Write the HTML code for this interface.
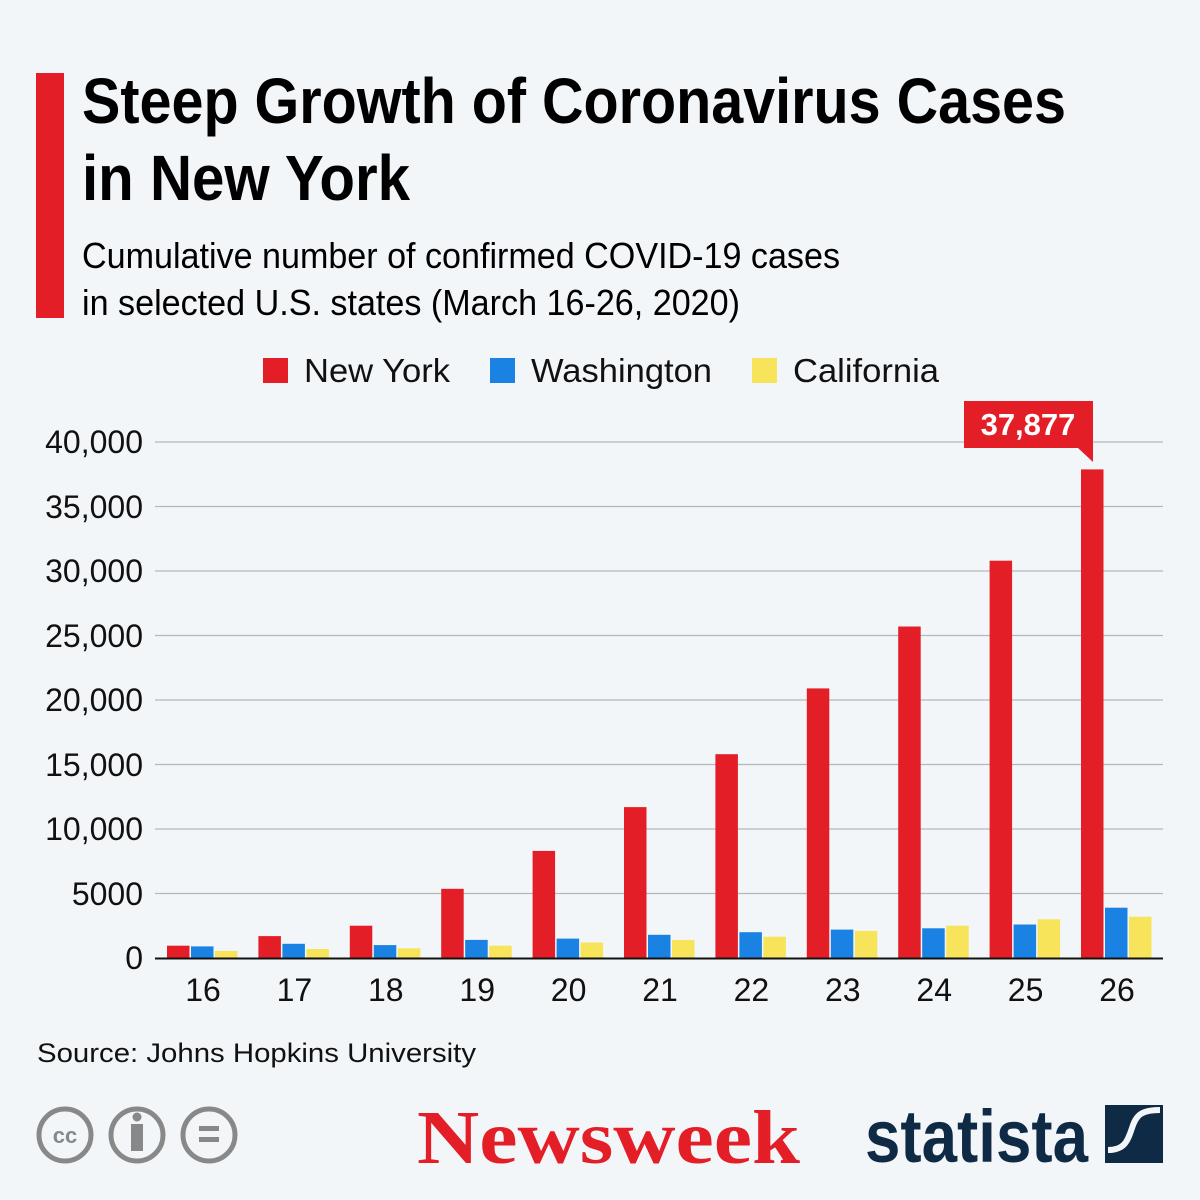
<!DOCTYPE html>
<html><head><meta charset="utf-8"><style>
html,body{margin:0;padding:0;background:#f3f6f9;}
svg{display:block;}
</style></head><body>
<svg width="1200" height="1200" viewBox="0 0 1200 1200" xmlns="http://www.w3.org/2000/svg">
<rect width="1200" height="1200" fill="#f3f6f9"/>
<rect x="36" y="73" width="28" height="245" fill="#e41e26"/>
<g font-family="Liberation Sans, sans-serif" fill="#000">
<text x="82" y="123" font-size="64" font-weight="bold" textLength="984" lengthAdjust="spacingAndGlyphs">Steep Growth of Coronavirus Cases</text>
<text x="82" y="200" font-size="64" font-weight="bold" textLength="328" lengthAdjust="spacingAndGlyphs">in New York</text>
<text x="82" y="268" font-size="36" textLength="758" lengthAdjust="spacingAndGlyphs">Cumulative number of confirmed COVID-19 cases</text>
<text x="82" y="315" font-size="36" textLength="658" lengthAdjust="spacingAndGlyphs">in selected U.S. states (March 16-26, 2020)</text>
</g>
<g font-family="Liberation Sans, sans-serif" font-size="33" fill="#111">
<rect x="263" y="358" width="25" height="25" fill="#e41e26"/><text x="304" y="382" textLength="146" lengthAdjust="spacingAndGlyphs">New York</text>
<rect x="490" y="358" width="25" height="25" fill="#1a82e2"/><text x="531" y="382" textLength="181" lengthAdjust="spacingAndGlyphs">Washington</text>
<rect x="752" y="358" width="25" height="25" fill="#f7e45b"/><text x="793" y="382" textLength="146" lengthAdjust="spacingAndGlyphs">California</text>
</g>
<g stroke="#b5b8bb" stroke-width="1.2">
<line x1="155" x2="1163" y1="442" y2="442"/><line x1="155" x2="1163" y1="506.5" y2="506.5"/>
<line x1="155" x2="1163" y1="571" y2="571"/><line x1="155" x2="1163" y1="635.5" y2="635.5"/>
<line x1="155" x2="1163" y1="700" y2="700"/><line x1="155" x2="1163" y1="764.5" y2="764.5"/>
<line x1="155" x2="1163" y1="829" y2="829"/><line x1="155" x2="1163" y1="893.5" y2="893.5"/>
</g>
<g font-family="Liberation Sans, sans-serif" font-size="32" fill="#111" text-anchor="end">
<text x="143" y="453">40,000</text><text x="143" y="518">35,000</text><text x="143" y="582">30,000</text>
<text x="143" y="647">25,000</text><text x="143" y="711">20,000</text><text x="143" y="776">15,000</text>
<text x="143" y="840">10,000</text><text x="143" y="905">5000</text><text x="143" y="969">0</text>
</g>
<g>
<rect x="167" y="945.7" width="22.5" height="12.3" fill="#e41e26"/><rect x="191" y="946.4" width="22.5" height="11.6" fill="#1a82e2"/><rect x="215" y="950.9" width="22.5" height="7.1" fill="#f7e45b"/>
<rect x="258.4" y="936.1" width="22.5" height="21.9" fill="#e41e26"/><rect x="282.4" y="943.8" width="22.5" height="14.2" fill="#1a82e2"/><rect x="306.4" y="949" width="22.5" height="9" fill="#f7e45b"/>
<rect x="349.8" y="925.7" width="22.5" height="32.3" fill="#e41e26"/><rect x="373.8" y="945.1" width="22.5" height="12.9" fill="#1a82e2"/><rect x="397.8" y="948.3" width="22.5" height="9.7" fill="#f7e45b"/>
<rect x="441.2" y="888.8" width="22.5" height="69.2" fill="#e41e26"/><rect x="465.2" y="939.9" width="22.5" height="18.1" fill="#1a82e2"/><rect x="489.2" y="945.7" width="22.5" height="12.3" fill="#f7e45b"/>
<rect x="532.6" y="850.9" width="22.5" height="107.1" fill="#e41e26"/><rect x="556.6" y="938.6" width="22.5" height="19.4" fill="#1a82e2"/><rect x="580.6" y="942.5" width="22.5" height="15.5" fill="#f7e45b"/>
<rect x="624" y="807.1" width="22.5" height="150.9" fill="#e41e26"/><rect x="648" y="934.8" width="22.5" height="23.2" fill="#1a82e2"/><rect x="672" y="939.9" width="22.5" height="18.1" fill="#f7e45b"/>
<rect x="715.4" y="754.2" width="22.5" height="203.8" fill="#e41e26"/><rect x="739.4" y="932.2" width="22.5" height="25.8" fill="#1a82e2"/><rect x="763.4" y="936.7" width="22.5" height="21.3" fill="#f7e45b"/>
<rect x="806.8" y="688.4" width="22.5" height="269.6" fill="#e41e26"/><rect x="830.8" y="929.6" width="22.5" height="28.4" fill="#1a82e2"/><rect x="854.8" y="930.9" width="22.5" height="27.1" fill="#f7e45b"/>
<rect x="898.2" y="626.5" width="22.5" height="331.5" fill="#e41e26"/><rect x="922.2" y="928.3" width="22.5" height="29.7" fill="#1a82e2"/><rect x="946.2" y="925.7" width="22.5" height="32.3" fill="#f7e45b"/>
<rect x="989.6" y="560.7" width="22.5" height="397.3" fill="#e41e26"/><rect x="1013.6" y="924.5" width="22.5" height="33.5" fill="#1a82e2"/><rect x="1037.6" y="919.3" width="22.5" height="38.7" fill="#f7e45b"/>
<rect x="1081" y="469.4" width="22.5" height="488.6" fill="#e41e26"/><rect x="1105" y="907.7" width="22.5" height="50.3" fill="#1a82e2"/><rect x="1129" y="916.7" width="22.5" height="41.3" fill="#f7e45b"/>
</g>
<line x1="155" x2="1163" y1="958.5" y2="958.5" stroke="#111" stroke-width="2"/>
<g font-family="Liberation Sans, sans-serif" font-size="32" fill="#111" text-anchor="middle">
<text x="203" y="1001">16</text><text x="294.4" y="1001">17</text><text x="385.8" y="1001">18</text><text x="477.2" y="1001">19</text>
<text x="568.6" y="1001">20</text><text x="660" y="1001">21</text><text x="751.4" y="1001">22</text><text x="842.8" y="1001">23</text>
<text x="934.2" y="1001">24</text><text x="1025.6" y="1001">25</text><text x="1117" y="1001">26</text>
</g>
<path d="M964 401 H1093 V462 L1078 448 H964 Z" fill="#e41e26"/>
<text x="1028" y="435" font-family="Liberation Sans, sans-serif" font-size="31" font-weight="bold" fill="#fff" text-anchor="middle">37,877</text>
<text x="37" y="1062" font-family="Liberation Sans, sans-serif" font-size="27" fill="#111" textLength="439" lengthAdjust="spacingAndGlyphs">Source: Johns Hopkins University</text>
<g fill="none" stroke="#888" stroke-width="5">
<circle cx="65" cy="1135" r="26"/><circle cx="137" cy="1135" r="26"/><circle cx="209" cy="1135" r="26"/>
</g>
<text x="65" y="1143" font-family="Liberation Sans, sans-serif" font-size="22" font-weight="bold" fill="#888" text-anchor="middle">cc</text>
<circle cx="137" cy="1117" r="4.5" fill="#888"/>
<rect x="131" y="1124" width="12" height="27" fill="#888"/>
<rect x="199" y="1126" width="20" height="5" fill="#888"/><rect x="199" y="1137" width="20" height="5" fill="#888"/>
<text x="417" y="1163" font-family="Liberation Serif, serif" font-size="76" font-weight="bold" fill="#e41e26" textLength="383" lengthAdjust="spacingAndGlyphs">Newsweek</text>
<text x="865" y="1162" font-family="Liberation Sans, sans-serif" font-size="74" font-weight="bold" fill="#0f2a44" textLength="223" lengthAdjust="spacingAndGlyphs">statista</text>
<rect x="1105" y="1105" width="58" height="58" fill="#0f2a44"/>
<path d="M1108 1150 C1125 1150 1128 1140 1132 1128 C1136 1116 1140 1110 1160 1110" stroke="#f3f6f9" stroke-width="6" fill="none"/>
</svg>
</body></html>
